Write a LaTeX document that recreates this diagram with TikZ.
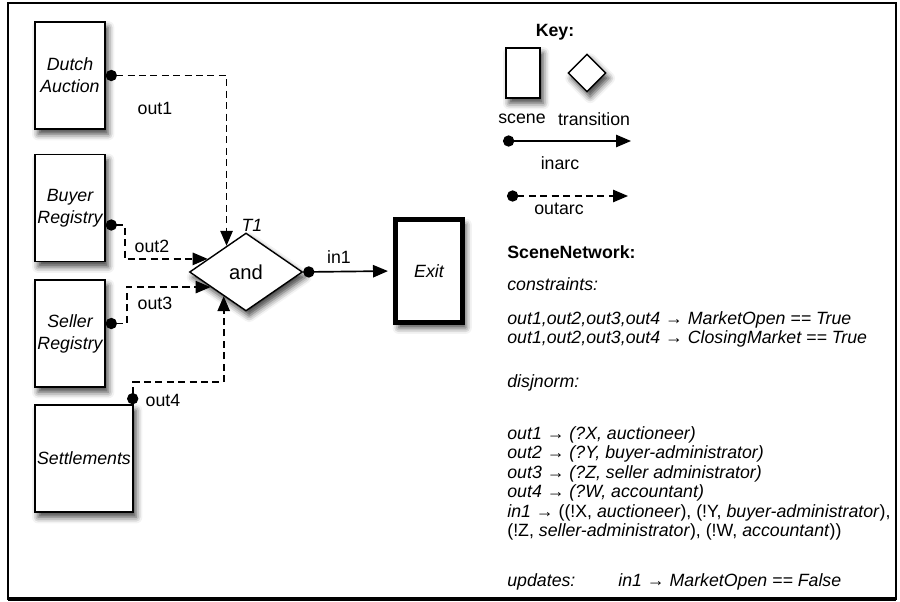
\documentclass[tikz,border=0pt]{standalone}
\usepackage{fontspec}
\setmainfont{Liberation Sans}
\usetikzlibrary{arrows.meta,calc,shapes.geometric,shadows.blur}

\tikzset{
  scene/.style={draw, line width=0.8pt, fill=white, inner sep=0pt, align=center,
    minimum width=1.4cm, minimum height=2.14cm,
    font=\fontsize{10.1}{12.6}\selectfont\itshape,
    blur shadow={shadow xshift=1.8pt, shadow yshift=-3pt, shadow blur radius=3.5pt, shadow opacity=75}},
  trans/.style={draw, diamond, line width=0.8pt, fill=white, inner sep=0pt,
    blur shadow={shadow xshift=1.8pt, shadow yshift=-3pt, shadow blur radius=3.5pt, shadow opacity=75}},
  inarc/.style={line width=0.95pt, {Circle[length=6.4pt]}-{Triangle[length=8.5pt,width=7pt]}},
  outarc/.style={inarc, dash pattern=on 4pt off 2.5pt},
  lbl/.style={inner sep=0pt, font=\fontsize{10.1}{11}\selectfont},
  txt/.style={inner sep=0pt, anchor=west, font=\fontsize{10.1}{11}\selectfont\itshape},
}

\begin{document}
\begin{tikzpicture}[x=0.02cm, y=-0.02cm]
  \useasboundingbox (0,0) rectangle (900,602);
  \draw[line width=1.1pt] (8,3) rectangle (896,599);
  \draw[line width=2.2pt] (8,599) -- (896,599);

  % scenes
  \node[scene] (dutch) at (70,75.5) {Dutch\\Auction};
  \node[scene] (buyer) at (70,208) {Buyer\\Registry};
  \node[scene] (seller) at (70,333.5) {Seller\\Registry};
  \node[scene, minimum width=1.96cm] (settle) at (84,458.5) {Settlements};
  \node[scene, line width=2.6pt, minimum width=1.34cm, minimum height=2.06cm] (exit) at (429,271) {Exit};

  % transition
  \node[trans, minimum width=2.26cm, minimum height=1.56cm, font=\fontsize{11.5}{12}\selectfont] (tone) at (246,272) {and};
  \node[lbl, font=\fontsize{10.1}{11}\selectfont\itshape] (tname) at (252,225) {T1};

  % arcs
  \draw[outarc] (dutch.east) -| ($(tone.north)!0.34!(tone.west)$);
  \draw[outarc] ($(buyer.east)+(0,17)$) -- ++(19,0) |- ($(tone.west)!0.33!(tone.north)$);
  \draw[outarc] ($(seller.east)+(0,-10)$) -- ++(21,0) |- ($(tone.west)!0.38!(tone.south)$);
  \draw[outarc] ($(settle.north east)+(-1,0)$) -- ++(0,-22) -| ($(tone.south)!0.39!(tone.west)$);
  \draw[inarc, shorten >=3pt] (tone.east) -- (exit.west);

  \node[lbl] (lout1) at (155,108) {out1};
  \node[lbl] (lout2) at (152,246) {out2};
  \node[lbl] (lout3) at (155,303) {out3};
  \node[lbl] (lout4) at (163,400) {out4};
  \node[lbl] (lin1) at (339,257) {in1};

  % key
  \node[lbl, font=\fontsize{10.1}{11}\selectfont\bfseries] (key) at (555,32) {Key:};
  \node[scene, minimum width=0.68cm, minimum height=1cm] (kscene) at (523,73) {};
  \node[trans, minimum width=0.76cm, minimum height=0.76cm] (ktrans) at (587,73) {};
  \node[lbl] (lscene) at (522,119) {scene};
  \node[lbl] (ltrans) at (594,119) {transition};
  \coordinate (ina) at (503,141);
  \coordinate (inb) at (631,141);
  \draw[inarc] (ina) -- (inb);
  \node[lbl] (linarc) at (560,163) {inarc};
  \coordinate (outa) at (507,196);
  \coordinate (outb) at (628,196);
  \draw[outarc] (outa) -- (outb);
  \node[lbl] (loutarc) at (559,209) {outarc};

  % scene network
  \node[txt, font=\fontsize{10.1}{11}\selectfont\bfseries] (snet) at (507,252) {SceneNetwork:};
  \node[txt] (cons) at (507,284) {constraints:};
  \node[txt] (cons1) at (507,320) {out1,out2,out3,out4 → MarketOpen == True};
  \node[txt] (cons2) at (507,339) {out1,out2,out3,out4 → ClosingMarket == True};
  \node[txt] (disj) at (507,383) {disjnorm:};
  \node[txt] (disj1) at (507,435) {out1 → (?X, auctioneer)};
  \node[txt] (disj2) at (507,454) {out2 → (?Y, buyer-administrator)};
  \node[txt] (disj3) at (507,474) {out3 → (?Z, seller administrator)};
  \node[txt] (disj4) at (507,493) {out4 → (?W, accountant)};
  \node[txt] (disj5) at (507,513) {in1 \textup{→ ((!X,} auctioneer\textup{), (!Y,} buyer-administrator\textup{),}};
  \node[txt] (disj6) at (507,532) {\textup{(!Z,} seller-administrator\textup{), (!W,} accountant\textup{))}};
  \node[txt] (upd) at (507,582) {updates:};
  \node[txt] (upd1) at (618,582) {in1 → MarketOpen == False};
\end{tikzpicture}
\end{document}
